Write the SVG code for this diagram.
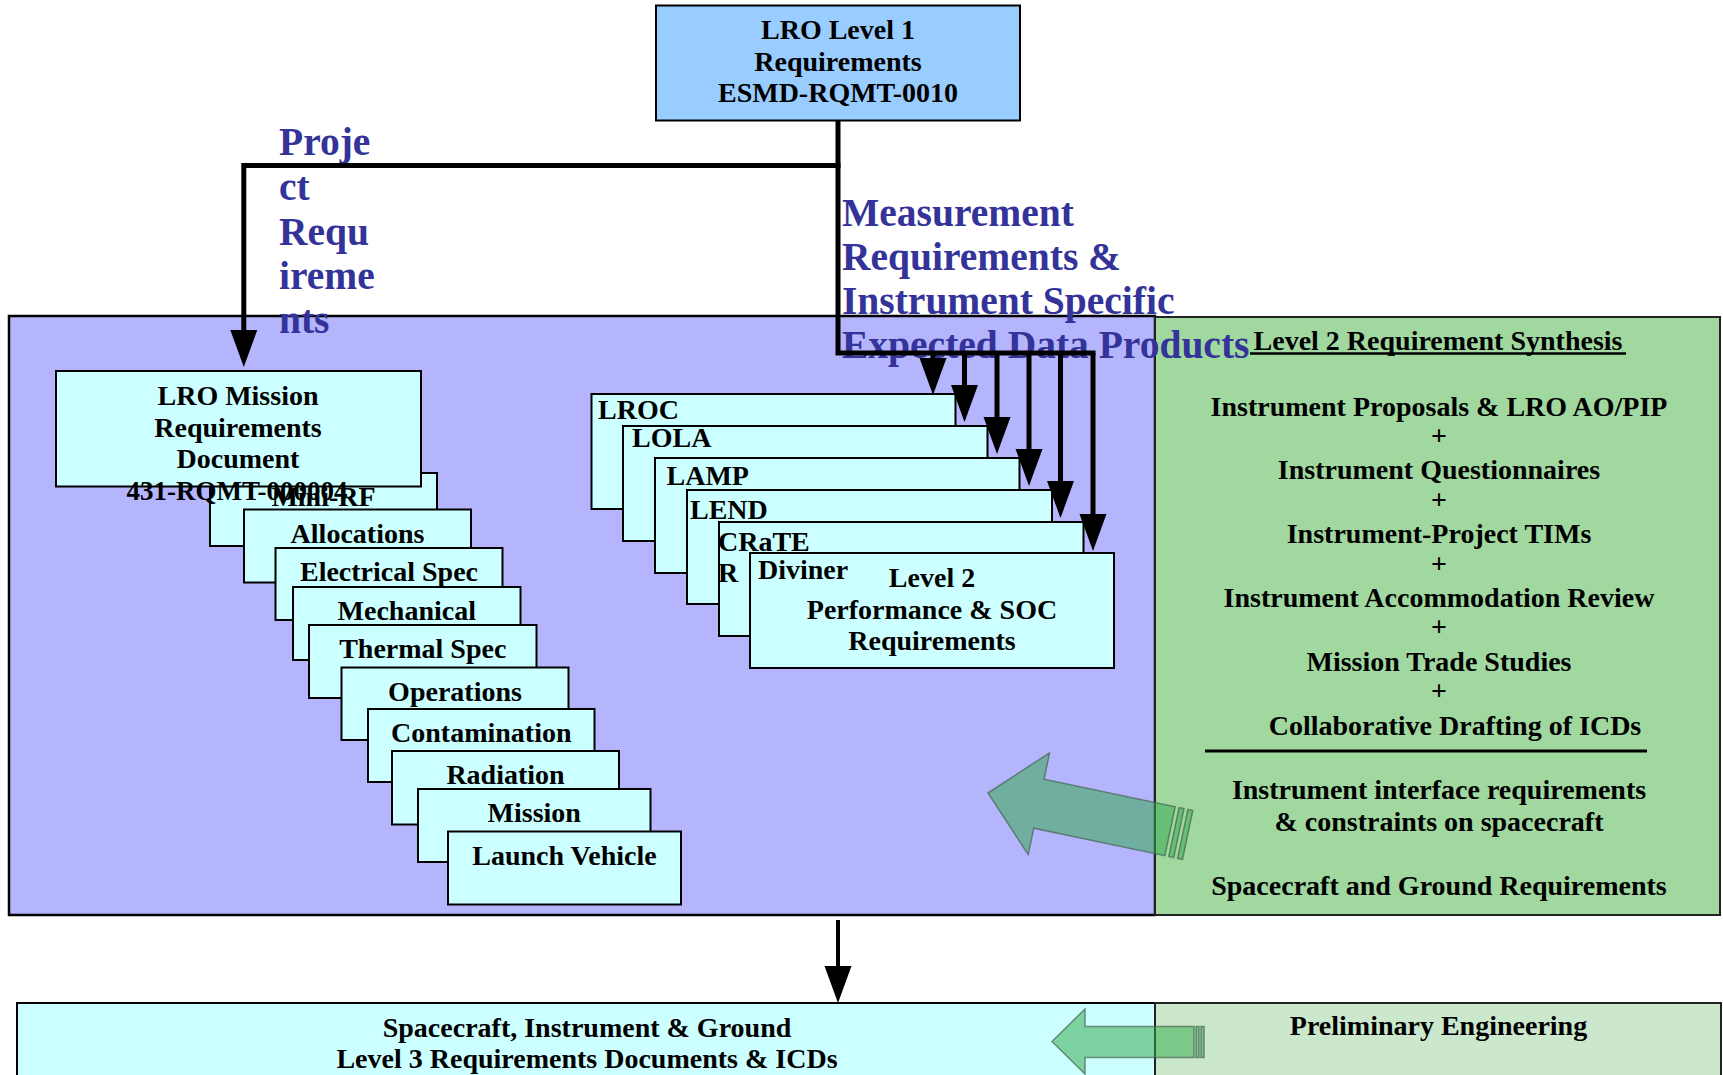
<svg xmlns="http://www.w3.org/2000/svg" xmlns:xlink="http://www.w3.org/1999/xlink" width="1723" height="1075" viewBox="0 0 1723 1075">
<style>
.box{stroke:#000;stroke-width:2}
.cy{fill:#CCFFFF}
.t{font-family:"Liberation Serif","Times New Roman",serif;font-weight:bold;font-size:28px;fill:#000}
.c{text-anchor:middle}
.bl{font-family:"Liberation Serif","Times New Roman",serif;font-weight:bold;font-size:39.5px;fill:#333399}
.ln{fill:none;stroke:#000;stroke-width:5}
.ga{fill:rgb(49,171,74);fill-opacity:0.52;stroke:rgb(70,100,80);stroke-opacity:0.7;stroke-width:1.5}
</style>
<defs>
<path id="ah" d="M-13.5,-37 L13.5,-37 L0,0 Z" fill="#000"/>
</defs>
<rect width="1723" height="1075" fill="#fff"/>

<g id="level2-area">
<rect x="9" y="316" width="1146" height="599" fill="#B5B5FD" stroke="#000" stroke-width="2.5"/>
</g>
<g id="synthesis">
<rect x="1155" y="317" width="565" height="598" fill="#A0D8A0" stroke="#222" stroke-width="2"/>
<text class="t c" x="1438" y="350">Level 2 Requirement Synthesis</text>
<line x1="1250" y1="353.5" x2="1626" y2="353.5" stroke="#000" stroke-width="2.5"/>
<text class="t c" x="1439" y="416">Instrument Proposals &amp; LRO AO/PIP</text>
<text class="t c" x="1439" y="445">+</text>
<text class="t c" x="1439" y="479">Instrument Questionnaires</text>
<text class="t c" x="1439" y="509">+</text>
<text class="t c" x="1439" y="543">Instrument-Project TIMs</text>
<text class="t c" x="1439" y="573">+</text>
<text class="t c" x="1439" y="607">Instrument Accommodation Review</text>
<text class="t c" x="1439" y="636">+</text>
<text class="t c" x="1439" y="671">Mission Trade Studies</text>
<text class="t c" x="1439" y="700">+</text>
<text class="t c" x="1455" y="735">Collaborative Drafting of ICDs</text>
<line x1="1205" y1="751" x2="1647" y2="751" stroke="#000" stroke-width="3"/>
<text class="t c" x="1439" y="799">Instrument interface requirements</text>
<text class="t c" x="1439" y="831">&amp; constraints on spacecraft</text>
<text class="t c" x="1439" y="895">Spacecraft and Ground Requirements</text>
</g>

<g id="level1">
<rect class="box" x="656" y="5.5" width="364" height="115" fill="#99CCFF"/>
<text class="t c" x="838" y="39">LRO Level 1</text>
<text class="t c" x="838" y="71">Requirements</text>
<text class="t c" x="838" y="102">ESMD-RQMT-0010</text>
</g>

<g id="mini-rf"><rect class="box cy" x="210" y="473" width="227" height="73"/><text class="t c" x="323.5" y="506">Mini-RF</text></g>
<g id="mrd">
<rect class="box cy" x="56" y="371" width="365" height="115.5"/>
<text class="t c" x="238" y="405">LRO Mission</text>
<text class="t c" x="238" y="437">Requirements</text>
<text class="t c" x="238" y="468">Document</text>
<text class="t c" x="237" y="500" style="font-size:27px">431-RQMT-000004</text>
</g>
<g id="allocations"><rect class="box cy" x="244" y="509.5" width="227" height="73"/><text class="t c" x="357.5" y="542.5">Allocations</text></g>
<g id="electrical"><rect class="box cy" x="275.5" y="548" width="227" height="72"/><text class="t c" x="389" y="581">Electrical Spec</text></g>
<g id="mechanical"><rect class="box cy" x="293" y="587" width="227.5" height="73"/><text class="t c" x="406.75" y="620">Mechanical</text></g>
<g id="thermal"><rect class="box cy" x="309" y="625" width="227.5" height="73"/><text class="t c" x="422.75" y="658">Thermal Spec</text></g>
<g id="operations"><rect class="box cy" x="341.5" y="667.5" width="227" height="72.5"/><text class="t c" x="455" y="700.5">Operations</text></g>
<g id="contamination"><rect class="box cy" x="368" y="709" width="226.5" height="73"/><text class="t c" x="481.25" y="742">Contamination</text></g>
<g id="radiation"><rect class="box cy" x="392" y="751" width="227" height="73.5"/><text class="t c" x="505.5" y="784">Radiation</text></g>
<g id="mission"><rect class="box cy" x="418" y="789" width="232.5" height="73"/><text class="t c" x="534.25" y="822">Mission</text></g>
<g id="launch-vehicle"><rect class="box cy" x="448" y="831.5" width="233" height="73"/><text class="t c" x="564.5" y="864.5">Launch Vehicle</text></g>

<g id="lroc"><rect class="box cy" x="591.5" y="394" width="364" height="115"/><text class="t" x="598" y="419">LROC</text></g>
<g id="lola"><rect class="box cy" x="623" y="426" width="364.5" height="115"/><text class="t" x="632" y="447">LOLA</text></g>
<g id="lamp"><rect class="box cy" x="655" y="458" width="364.5" height="115"/><text class="t" x="666.5" y="485">LAMP</text></g>
<g id="lend"><rect class="box cy" x="687" y="490" width="365" height="114"/><text class="t" x="690" y="518.5">LEND</text></g>
<g id="crater"><rect class="box cy" x="719" y="522" width="364.5" height="114"/><text class="t" x="718" y="550.5">CRaTE</text><text class="t" x="718" y="582">R</text></g>
<g id="diviner">
<rect class="box cy" x="750" y="553" width="364" height="115"/>
<text class="t" x="758" y="578.5">Diviner</text>
<text class="t c" x="932" y="587">Level 2</text>
<text class="t c" x="932" y="618.5">Performance &amp; SOC</text>
<text class="t c" x="932" y="650">Requirements</text>
</g>

<g id="level3">
<rect class="box cy" x="17" y="1003" width="1138" height="80"/>
<text class="t c" x="587" y="1037">Spacecraft, Instrument &amp; Ground</text>
<text class="t c" x="587" y="1068">Level 3 Requirements Documents &amp; ICDs</text>
</g>
<g id="prelim">
<rect x="1155" y="1003" width="566" height="80" fill="#CCE8CC" stroke="#222" stroke-width="2"/>
<text class="t c" x="1438.5" y="1035">Preliminary Engineering</text>
</g>

<g id="labels">
<text class="bl" x="279" y="155">Proje</text>
<text class="bl" x="279" y="200">ct</text>
<text class="bl" x="279" y="245">Requ</text>
<text class="bl" x="279" y="289">ireme</text>
<text class="bl" x="279" y="333">nts</text>
<text class="bl" x="842" y="226">Measurement</text>
<text class="bl" x="842" y="270">Requirements &amp;</text>
<text class="bl" x="842" y="314">Instrument Specific</text>
<text class="bl" x="842" y="358">Expected Data Products</text>
</g>

<g id="connectors">
<path class="ln" d="M838,120 V353 H1095.5"/>
<path class="ln" d="M840.5,165.5 H243.8 V332"/>
<use href="#ah" x="243.8" y="367"/>
<path class="ln" d="M933,353 V360"/>
<use href="#ah" x="933" y="395"/>
<path class="ln" d="M964.5,353 V387"/>
<use href="#ah" x="964.5" y="422"/>
<path class="ln" d="M997,353 V419"/>
<use href="#ah" x="997" y="454"/>
<path class="ln" d="M1029,353 V451"/>
<use href="#ah" x="1029" y="486"/>
<path class="ln" d="M1060.5,353 V483"/>
<use href="#ah" x="1060.5" y="518"/>
<path class="ln" d="M1093,353 V516"/>
<use href="#ah" x="1093" y="551"/>
<path d="M838,920 V968" stroke="#000" stroke-width="4" fill="none"/>
<use href="#ah" x="838" y="1003"/>
<g transform="translate(988,793) rotate(11.86)">
<polygon class="ga" points="0,0 52,-52 52,-25 186,-25 186,25 52,25 52,52"/>
<rect class="ga" x="190" y="-25" width="5" height="50"/>
<rect class="ga" x="199" y="-25" width="5" height="50"/>
</g>
<polygon class="ga" points="1052,1041.5 1085,1009 1085,1026.5 1194,1026.5 1194,1057.5 1085,1057.5 1085,1074"/>
<rect class="ga" x="1196" y="1026.5" width="3" height="31"/>
<rect class="ga" x="1201" y="1026.5" width="3" height="31"/>
</g>
</svg>
